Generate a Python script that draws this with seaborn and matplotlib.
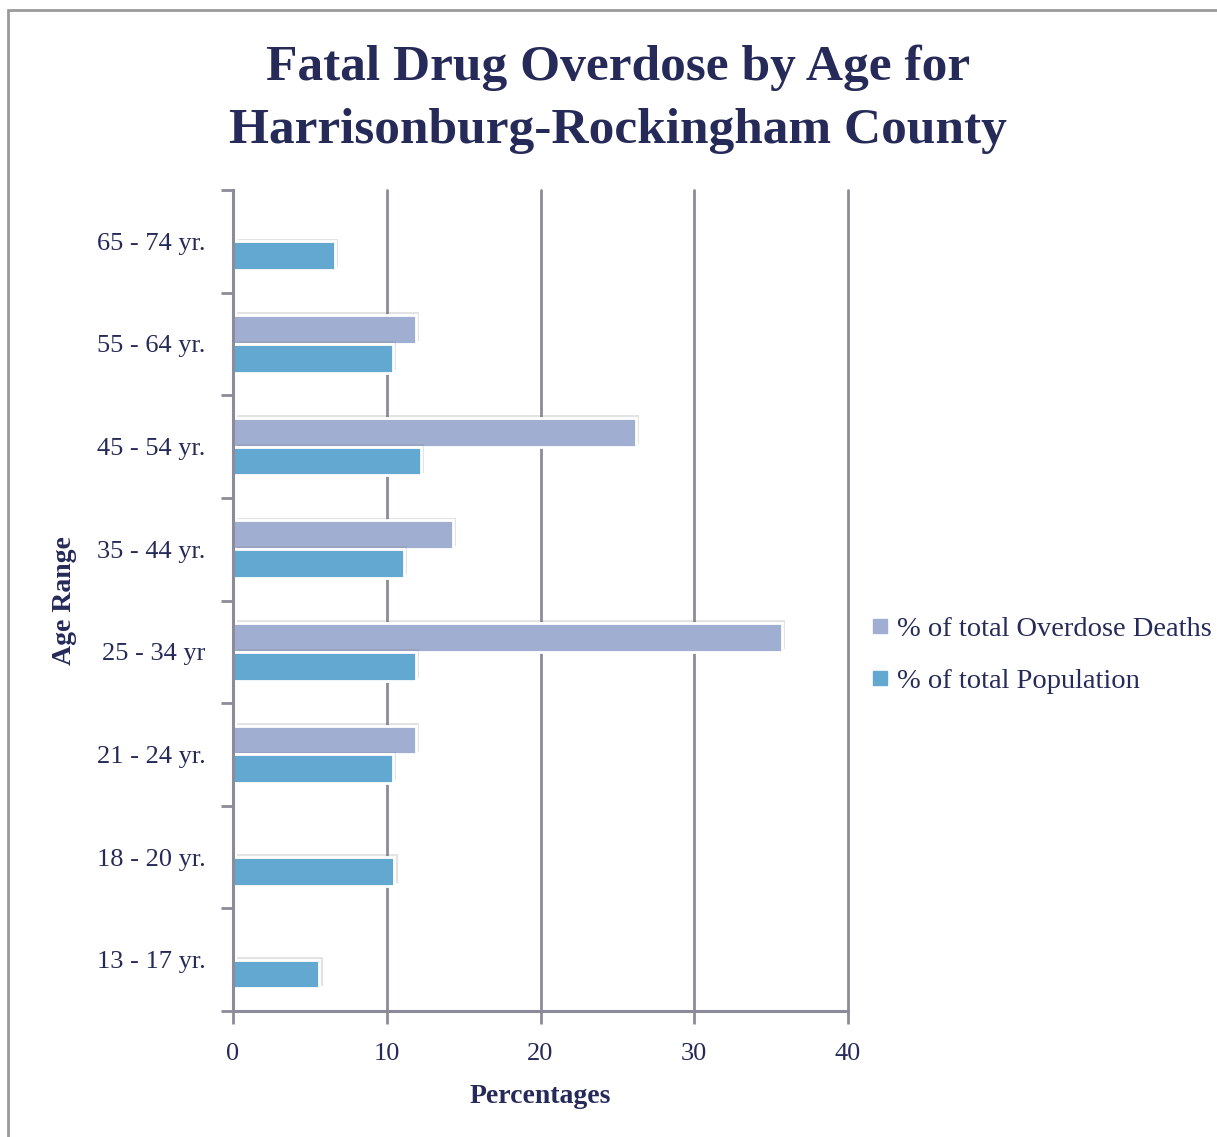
import matplotlib
matplotlib.use("Agg")
import matplotlib.pyplot as plt
import matplotlib.patheffects as pe
from matplotlib.patches import Rectangle
from matplotlib.lines import Line2D
import numpy as np
import pandas as pd
import seaborn as sns

ages = ["65 - 74 yr.", "55 - 64 yr.", "45 - 54 yr.", "35 - 44 yr.",
        "25 - 34 yr", "21 - 24 yr.", "18 - 20 yr.", "13 - 17 yr."]
overdose = [0, 11.9, 26.2, 14.3, 35.7, 11.9, 0, 0]
population = [6.6, 10.4, 12.2, 11.1, 11.9, 10.4, 10.5, 5.6]
series = ["% of total Overdose Deaths", "% of total Population"]
colors = ["#A0AED2", "#63A8D0"]

df = pd.DataFrame({
    "Age": ages * 2,
    "Pct": overdose + population,
    "Series": [series[0]] * len(ages) + [series[1]] * len(ages),
})

navy = "#252A58"
gridc = "#8C8B99"

sns.set_style("white")
plt.rcParams["font.family"] = ["Liberation Serif", "DejaVu Serif"]

fig = plt.figure(figsize=(12.17, 11.37), dpi=100)
ax = fig.add_axes([0.1915, 0.1108, 0.5053, 0.7221])

sns.barplot(data=df, y="Age", x="Pct", hue="Series", hue_order=series,
            order=ages, palette=colors, orient="h", width=0.56,
            edgecolor="white", linewidth=2, saturation=1, ax=ax, legend=False)

for p in ax.patches:
    if p.get_width() == 0:
        p.set_visible(False)
    else:
        p.set_path_effects([pe.SimplePatchShadow(offset=(2.5, 2), shadow_rgbFace="#777777", alpha=0.2),
                            pe.Normal()])

ax.set_xlim(0, 40)
ax.set_xticks([0, 10, 20, 30, 40])
ax.xaxis.grid(True, color=gridc, linewidth=2)
for gl in ax.get_xgridlines():
    gl.set_clip_on(False)
ax.set_axisbelow(True)
ax.set_ylim(len(ages) - 0.5, -0.5)

# tick marks between categories, labels at centers
ax.set_yticks(np.arange(len(ages)))
ax.set_yticklabels(ages)
ax.set_yticks(np.arange(-0.5, len(ages), 1), minor=True)
ax.tick_params(axis="y", which="major", length=0, pad=20, labelsize=19, labelcolor=navy)
ax.tick_params(axis="y", which="minor", length=9, width=2, color=gridc, direction="out", left=True)
ax.tick_params(axis="x", which="major", length=9, width=2, color=gridc, direction="out",
               bottom=True, pad=14, labelsize=19, labelcolor=navy)

for s in ["top", "right"]:
    ax.spines[s].set_visible(False)
for s in ["left", "bottom"]:
    ax.spines[s].set_color(gridc)
    ax.spines[s].set_linewidth(2.2)

ax.set_xlabel("Percentages", fontsize=20, fontweight="bold", color=navy, labelpad=14)
ax.set_ylabel("Age Range", fontsize=20, fontweight="bold", color=navy)
ax.yaxis.set_label_coords(-0.253, 0.5)

fig.text(0.508, 0.913, "Fatal Drug Overdose by Age for\nHarrisonburg-Rockingham County",
         ha="center", va="center", fontsize=37, fontweight="bold", color=navy,
         linespacing=1.48)

handles = [Line2D([], [], marker="s", linestyle="none", markersize=10,
                  markerfacecolor=c, markeredgecolor=c) for c in colors]
fig.legend(handles, series, loc="center left", bbox_to_anchor=(0.714, 0.424),
           frameon=False, fontsize=20.5, labelcolor=navy, handletextpad=0.2,
           labelspacing=0.9, handlelength=0.8, borderaxespad=0, borderpad=0)

fig.patches.append(Rectangle((8 / 1217, -0.5), 2, 0.5 + (1 - 10 / 1137),
                             transform=fig.transFigure, fill=False,
                             edgecolor="#9A9A9A", linewidth=2))

fig.savefig("out.png", dpi=100)
